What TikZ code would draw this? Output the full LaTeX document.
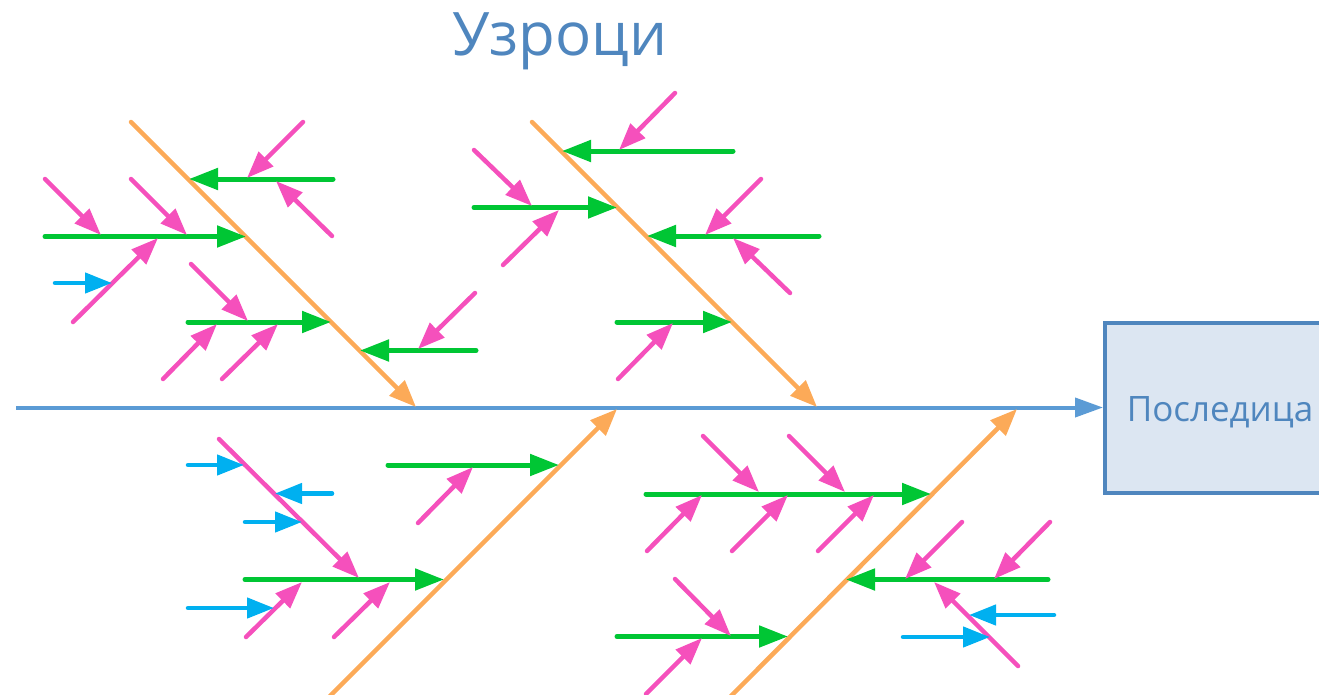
\documentclass[tikz,border=0pt]{standalone}
\usepackage{fontspec}
\setmainfont{Open Sans}
\usetikzlibrary{arrows.meta}
\definecolor{spinec}{RGB}{91,155,213}
\definecolor{boxline}{RGB}{79,134,190}
\definecolor{boxfill}{RGB}{220,230,242}
\definecolor{textc}{RGB}{79,134,190}
\definecolor{orangec}{RGB}{252,170,88}
\definecolor{greenc}{RGB}{0,198,52}
\definecolor{pinkc}{RGB}{245,80,188}
\definecolor{bluec}{RGB}{0,176,240}
\newcommand\seg[4]{\coordinate (#2s) at (#3); \coordinate (#2e) at (#4); \draw[#1] (#2s) -- (#2e);}
\tikzset{
  spinel/.style={draw=spinec, line width=4pt, -{Triangle[length=28pt,width=19pt]}},
  bonel/.style={draw=orangec, line width=4.5pt, line cap=round, -{Triangle[length=27pt,width=21pt]}},
  grl/.style={draw=greenc, line width=5pt, line cap=round, -{Triangle[length=29pt,width=21pt]}},
  pkl/.style={draw=pinkc, line width=4.5pt, line cap=round, -{Triangle[length=27pt,width=20pt]}},
  bll/.style={draw=bluec, line width=4.5pt, line cap=round, -{Triangle[length=27pt,width=20pt]}},
}
\begin{document}
\begin{tikzpicture}[x=1pt,y=-1pt]
\useasboundingbox (0,0) rectangle (1319,694);
\clip (0,0) rectangle (1319,694);
% title
\node[anchor=base, text=textc, font=\fontsize{60}{64}\selectfont, inner sep=0pt] (title) at (560,55) {Узроци};
% effect box
\node[draw=boxline, fill=boxfill, line width=4pt, anchor=west, minimum width=240pt, minimum height=170pt, inner sep=0pt] (eff) at (1103,408) {};
\node[anchor=base, text=textc, font=\fontsize{35}{38}\selectfont, inner sep=0pt] (efft) at (1220,421) {Последица};
% spine
\coordinate (spS) at (16,407.5);
\draw[spinel] (spS) -- (eff.west |- spS);
% ===== top-left bone =====
\seg{bonel}{A}{131,122}{416,407}
\seg{grl}{A1}{333,179}{189,179}
\seg{pkl}{A1a}{303,122}{247,178}
\seg{pkl}{A1b}{332,236}{276,181}
\seg{grl}{A2}{45,236.5}{246,236.5}
\seg{pkl}{A2a}{45,179}{101,235}
\seg{pkl}{A2b}{131,179}{187,235}
\seg{pkl}{A2c}{73,322}{158,238}
\seg{bll}{A2c1}{55,283}{112,283}
\seg{grl}{A3}{188,322}{331,322}
\seg{pkl}{A3a}{191,264}{248,321}
\seg{pkl}{A3b}{163,379}{217,324}
\seg{pkl}{A3c}{222,379}{278,324}
\seg{grl}{A4}{476,350.5}{360,350.5}
\seg{pkl}{A4a}{475,293}{418,349}
% ===== top-middle bone =====
\seg{bonel}{B}{532,122}{817,407}
\seg{grl}{B1}{733,151}{562,151}
\seg{pkl}{B1a}{675,93}{619,150}
\seg{grl}{B2}{474,207.5}{617,207.5}
\seg{pkl}{B2a}{474,150}{532,206}
\seg{pkl}{B2b}{503,265}{559,210}
\seg{grl}{B3}{819,236}{647,236}
\seg{pkl}{B3a}{761,179}{705,235}
\seg{pkl}{B3b}{790,293}{733,238}
\seg{grl}{B4}{617,322}{732,322}
\seg{pkl}{B4a}{618,379}{673,323}
% ===== bottom-left bone =====
\seg{bonel}{C}{330,696}{617,409}
\seg{grl}{C1}{388,465}{559,465}
\seg{pkl}{C1a}{418,523}{473,467}
\seg{grl}{C2}{245,579.5}{444,579.5}
\seg{pkl}{C2d}{219,439}{359,578}
\seg{bll}{C2d1}{188,465}{244,465}
\seg{bll}{C2d2}{332,493.5}{275,493.5}
\seg{bll}{C2d3}{245,522}{302,522}
\seg{pkl}{C2a}{246,637}{302,582}
\seg{bll}{C2a1}{188,608}{274,608}
\seg{pkl}{C2b}{334,637}{390,582}
% ===== bottom-right bone =====
\seg{bonel}{D}{731,696}{1017,409}
\seg{grl}{D1}{646,494}{931,494}
\seg{pkl}{D1a}{703,436}{759,492}
\seg{pkl}{D1b}{789,436}{845,492}
\seg{pkl}{D1c}{647,551}{702,495}
\seg{pkl}{D1d}{732,551}{788,495}
\seg{pkl}{D1e}{818,551}{874,495}
\seg{grl}{D2}{1048,579.5}{846,579.5}
\seg{pkl}{D2a}{962,522}{905,579}
\seg{pkl}{D2b}{1050,522}{994,579}
\seg{pkl}{D2c}{1018,666}{934,582}
\seg{bll}{D2c1}{1054,615}{969,615}
\seg{bll}{D2c2}{903,637}{990,637}
\seg{grl}{D3}{617,636.5}{788,636.5}
\seg{pkl}{D3a}{675,579}{731,636}
\seg{pkl}{D3b}{646,694}{702,638}
\end{tikzpicture}
\end{document}
